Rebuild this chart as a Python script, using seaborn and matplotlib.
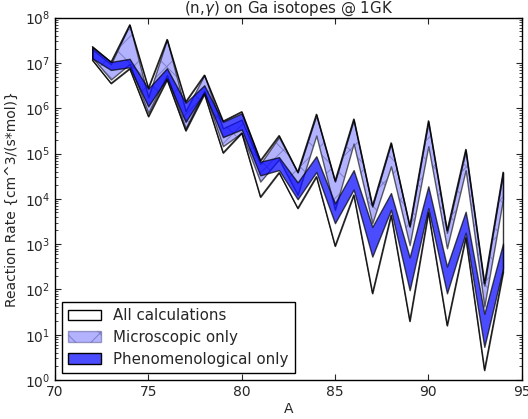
import numpy as np
import pandas as pd
import matplotlib
matplotlib.use("Agg")
import matplotlib.pyplot as plt
import seaborn as sns
from matplotlib.patches import Patch

# mass numbers of the Ga isotopes
A = [72, 73, 74, 75, 76, 77, 78, 79, 80, 81, 82, 83,
     84, 85, 86, 87, 88, 89, 90, 91, 92, 93, 94]

# reaction rates, cm^3/(s*mol)
all_lo = [1.16e7, 3.55e6, 7.5e6, 6.6e5, 4.3e6, 3.2e5, 2.07e6, 1.04e5, 2.85e5, 1.1e4, 3.8e4, 6.2e3,
          3.1e4, 9.1e2, 1.22e4, 8.2e1, 4.4e3, 2.0e1, 5.0e3, 1.6e1, 1.4e3, 1.65e0, 2.4e2]
all_hi = [2.3e7, 1.05e7, 6.95e7, 2.8e6, 3.3e7, 1.39e6, 5.4e6, 5.2e5, 8.4e5, 7.0e4, 2.5e5, 3.9e4,
          7.4e5, 2.5e4, 5.8e5, 7.0e3, 1.73e5, 2.5e3, 5.3e5, 2.0e3, 1.24e5, 1.36e2, 3.9e4]
mic_lo = [1.32e7, 4.3e6, 9.4e6, 7.9e5, 5.3e6, 3.6e5, 2.4e6, 1.45e5, 2.85e5, 2.4e4, 7.4e4, 1.22e4,
          2.5e5, 5.7e3, 1.66e5, 2.9e3, 5.2e4, 9.5e2, 1.45e5, 8.1e2, 4.3e4, 4.2e1, 9.8e3]
mic_hi = [2.0e7, 9.4e6, 6.95e7, 1.75e6, 3.3e7, 8.7e5, 5.4e6, 3.6e5, 5.6e5, 5.9e4, 2.3e5, 3.8e4,
          7.0e5, 2.4e4, 5.5e5, 6.7e3, 1.66e5, 2.4e3, 5.0e5, 1.78e3, 1.16e5, 1.22e2, 3.8e4]
phen_lo = [1.26e7, 7.0e6, 8.0e6, 1.1e6, 4.6e6, 5.0e5, 2.2e6, 2.3e5, 3.4e5, 3.3e4, 4.3e4, 9.8e3,
           3.9e4, 2.9e3, 1.6e4, 5.3e2, 5.7e3, 9.6e1, 6.2e3, 8.2e1, 1.78e3, 5.4e0, 2.9e2]
phen_hi = [2.2e7, 1.05e7, 1.23e7, 2.7e6, 7.6e6, 1.32e6, 3.2e6, 5.0e5, 7.7e5, 6.6e4, 8.3e4, 2.3e4,
           8.7e4, 7.9e3, 4.3e4, 2.4e3, 1.34e4, 5.1e2, 1.89e4, 3.2e2, 5.2e3, 2.9e1, 1.03e3]

df = pd.DataFrame({"A": A, "all_lo": all_lo, "all_hi": all_hi,
                   "mic_lo": mic_lo, "mic_hi": mic_hi,
                   "phen_lo": phen_lo, "phen_hi": phen_hi})

sns.set_style("ticks", {"xtick.direction": "in", "ytick.direction": "in"})
plt.rcParams["font.family"] = ["DejaVu Sans"]
plt.rcParams["hatch.linewidth"] = 0.7

fig, ax = plt.subplots(figsize=(5.28, 4.19), dpi=100)

# all calculations: white band
ax.fill_between(df["A"], df["all_lo"], df["all_hi"], facecolor="white",
                edgecolor="black", linewidth=1.0, alpha=0.8, zorder=2)
# microscopic only: light band with faint cross hatch
ax.fill_between(df["A"], df["mic_lo"], df["mic_hi"], facecolor=(0, 0, 1, 0.3),
                edgecolor=(0, 0, 0, 0.6), linewidth=1.0, zorder=3)
ax.fill_between(df["A"], df["mic_lo"], df["mic_hi"], facecolor="none",
                edgecolor=(0.3, 0.3, 0.55, 0.5), hatch="x", linewidth=0, zorder=3)
# phenomenological only: solid blue band
ax.fill_between(df["A"], df["phen_lo"], df["phen_hi"], facecolor=(0, 0, 1, 0.7),
                edgecolor=(0, 0, 0, 0.7), linewidth=1.0, zorder=4)

for col in ["all_lo", "all_hi"]:
    sns.lineplot(data=df, x="A", y=col, color="black", linewidth=0.8, alpha=0.7, ax=ax, zorder=5)

ax.set_yscale("log")
ax.set_xlim(70, 95)
ax.set_ylim(1e0, 1e8)
ax.set_xticks([70, 75, 80, 85, 90, 95])
ax.tick_params(axis="both", which="both", direction="in", top=True, right=True, labelsize=10)
ax.tick_params(which="major", length=4)
ax.tick_params(which="minor", length=2)
ax.set_title("(n,$\\gamma$) on Ga isotopes @ 1GK", fontsize=10.8, pad=3)
ax.set_xlabel("A", fontsize=10, labelpad=2)
ax.set_ylabel("Reaction Rate {cm^3/(s*mol)}", fontsize=10)
for s in ax.spines.values():
    s.set_linewidth(1.0)
    s.set_color("black")

handles = [Patch(facecolor="white", edgecolor="black", label="All calculations"),
           Patch(facecolor=(0, 0, 1, 0.3), edgecolor=(0.3, 0.3, 0.55, 0.5), hatch="x", label="Microscopic only"),
           Patch(facecolor=(0, 0, 1, 0.7), edgecolor="black", label="Phenomenological only")]
leg = ax.legend(handles=handles, loc="lower left", fontsize=10.8, fancybox=False,
                framealpha=1, edgecolor="black", handlelength=2.2, borderpad=0.4,
                labelspacing=0.45, handletextpad=0.8)
leg.get_frame().set_linewidth(1.0)

fig.subplots_adjust(left=0.104, right=0.988, top=0.958, bottom=0.093)
fig.savefig("out.png", dpi=100)
